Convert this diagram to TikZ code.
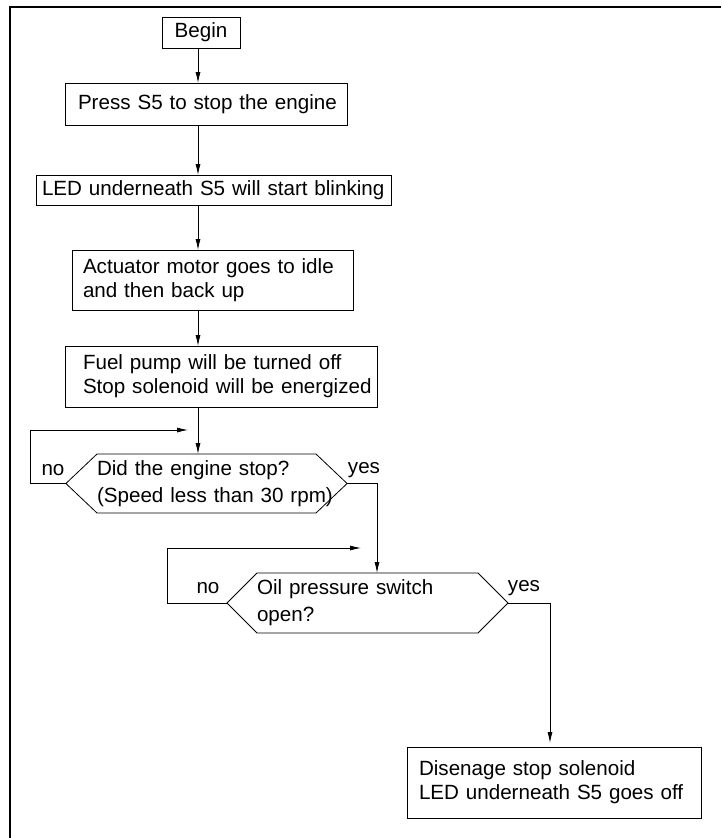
\documentclass[tikz,border=0pt]{standalone}
\usepackage{fontspec}
\setmainfont{Liberation Sans}
\usetikzlibrary{arrows.meta,shapes.symbols}
\begin{document}
\begin{tikzpicture}[x=1pt, y=-1pt, line width=0.8pt,
  every node/.style={font=\fontsize{20.6}{24}\selectfont, outer sep=0pt},
  lead/.style={execute at begin node={\leftskip=#1\relax}},
  stepbox/.style={draw, rectangle, anchor=north west, align=left, inner xsep=0pt, inner ysep=0pt},
  query/.style={draw, signal, signal to=west and east, align=left, inner xsep=0pt, inner ysep=0pt,
    font=\fontsize{20.6}{27}\selectfont},
  flow/.style={-{Latex[length=11pt,width=5pt]}}]
\useasboundingbox (0,0) rectangle (721,838);
\draw [line width=2pt] (10,838) |- (721,7); % frame
\coordinate (spine) at (198,0);
\coordinate (drop1) at (377,0);
\coordinate (drop2) at (550,0);
\coordinate (back1) at (188,430);
\coordinate (back2) at (361,548);
\node [draw, anchor=north west, minimum width=78pt, minimum height=31pt, inner sep=0pt] (begin) at (162,17) {Begin};
\node [stepbox, text width=282pt, minimum height=42pt, lead=13pt] (press) at (65,83) {\mbox{Press S5 to stop the engine}};
\node [stepbox, text width=355pt, minimum height=30pt, lead=6pt] (led) at (36,175) {\mbox{LED underneath S5 will start blinking}};
\node [stepbox, text width=281pt, minimum height=60pt, lead=11pt] (actuator) at (72,250) {\mbox{Actuator motor goes to idle}\\\mbox{and then back up}};
\node [stepbox, text width=312pt, minimum height=61pt, lead=18pt] (fuel) at (65,346) {\mbox{Fuel pump will be turned off}\\\mbox{Stop solenoid will be energized}};
\node [query, text width=219pt, minimum height=59pt, signal pointer angle=87] (stopped) at (206.5,483.5) {Did the engine stop?\\\mbox{(Speed less than 30 rpm)}};
\node [query, text width=221pt, minimum height=60pt, signal pointer angle=90] (oil) at (367.5,603) {Oil pressure switch\\open?};
\node [stepbox, text width=294pt, minimum height=71pt, lead=12pt] (done) at (407,747) {\mbox{Disenage stop solenoid}\\\mbox{LED underneath S5 goes off}};
\node (no1) at (53,470) {no};
\node (yes1) at (364,470) {yes};
\node (no2) at (208,588) {no};
\node (yes2) at (524,588) {yes};
\draw [flow] (begin.south -| spine) -- (press.north -| spine);
\draw [flow] (press.south -| spine) -- (led.north -| spine);
\draw [flow] (led.south -| spine) -- (actuator.north -| spine);
\draw [flow] (actuator.south -| spine) -- (fuel.north -| spine);
\draw [flow] (fuel.south -| spine) -- (stopped.north -| spine);
\draw [flow] (stopped.west) -- ++(-36,0) |- (back1); % no loop
\draw [flow] (stopped.east) -| (oil.north -| drop1);
\draw [flow] (oil.west) -- ++(-60,0) |- (back2); % no loop
\draw [flow, shorten >=4pt] (oil.east) -| (done.north -| drop2);
\end{tikzpicture}
\end{document}
